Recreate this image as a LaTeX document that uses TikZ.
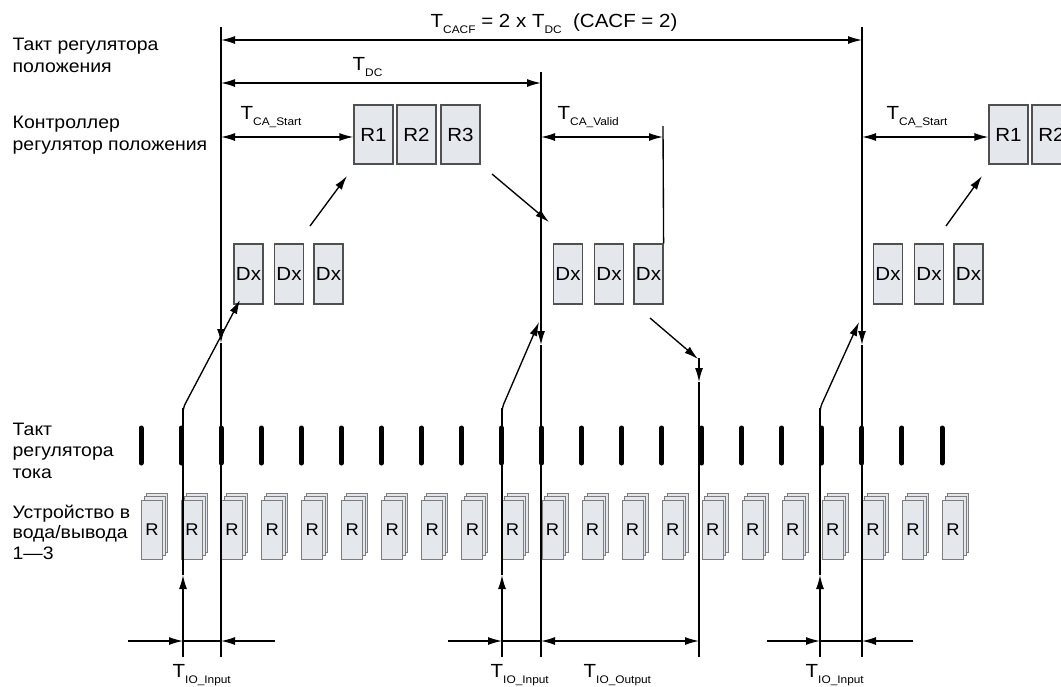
\documentclass[tikz,border=0pt]{standalone}
\usepackage{fontspec}
\setmainfont[FakeStretch=1.08]{Liberation Sans}
\usetikzlibrary{arrows.meta}
\definecolor{boxfill}{RGB}{228,232,236}
\definecolor{boxline}{RGB}{80,80,80}
\definecolor{sheetline}{RGB}{125,125,125}
\newcommand\Tl[1]{T\raisebox{-6.5pt}{\fontsize{11}{12}\selectfont #1}}
\tikzset{
  lab/.style={anchor=base west, inner sep=0pt, font=\fontsize{18}{22}\selectfont},
  tlab/.style={anchor=base west, inner sep=0pt, font=\fontsize{19}{22}\selectfont},
  rbox/.style={draw=boxline, fill=boxfill, line width=1.2pt, minimum width=39pt, minimum height=59pt, inner sep=0pt, font=\fontsize{19}{22}\selectfont},
  dxbox/.style={draw=boxline, fill=boxfill, line width=1.2pt, minimum width=29pt, minimum height=60pt, inner sep=0pt, font=\fontsize{19}{22}\selectfont},
  sheet/.style={draw=sheetline, fill=boxfill, line width=0.9pt, minimum width=21pt, minimum height=59pt, inner sep=0pt, font=\fontsize{17}{20}\selectfont},
  tick/.style={line width=5pt, line cap=round},
}
\begin{document}
\begin{tikzpicture}[x=1pt,y=-1pt, >={Latex[length=14pt,width=8pt]}, line width=1.35pt]
\useasboundingbox (0,0) rectangle (1061,686);
\clip (0,0) rectangle (1061,686);

% left labels
\node[lab] (a1) at (12,50) {Такт регулятора};
\node[lab] (a2) at (12,72) {положения};
\node[lab] (b1) at (12,128) {Контроллер};
\node[lab] (b2) at (12,150) {регулятор положения};
\node[lab] (c1) at (12,435) {Такт};
\node[lab] (c2) at (12,456) {регулятора};
\node[lab] (c3) at (12,478) {тока};
\node[lab] (d1) at (12,518) {Устройство в};
\node[lab] (d2) at (12,538) {вода/вывода};
\node[lab] (d3) at (12,559) {1—3};

% main vertical lines
\coordinate (L1t) at (221,27);  \coordinate (L1m) at (221,343); \coordinate (L1b) at (221,657);
\coordinate (L2t) at (541,72); \coordinate (L2m) at (541,345); \coordinate (L2b) at (541,657);
\coordinate (L3t) at (862,27);  \coordinate (L3m) at (862,345); \coordinate (L3b) at (862,657);
\draw[->] (L1t) -- (L1m); \draw (L1m) -- (L1b);
\draw[->] (L2t) -- (L2m); \draw (L2m) -- (L2b);
\draw[->] (L3t) -- (L3m); \draw (L3m) -- (L3b);

% boxes
\node[rbox] (R1a) at (373.5,134.5) {R1};
\node[rbox] (R2a) at (416.5,134.5) {R2};
\node[rbox] (R3a) at (460.5,134.5) {R3};
\node[rbox] (R1b) at (1008.5,134.5) {R1};
\node[rbox] (R2b) at (1051.5,134.5) {R2};

\node[dxbox] (D1a) at (248.5,274) {Dx};
\node[dxbox] (D1b) at (289,274) {Dx};
\node[dxbox] (D1c) at (328.5,274) {Dx};
\node[dxbox] (D2a) at (568,274) {Dx};
\node[dxbox] (D2b) at (609,274) {Dx};
\node[dxbox] (D2c) at (648.5,274) {Dx};
\node[dxbox] (D3a) at (888,274) {Dx};
\node[dxbox] (D3b) at (929,274) {Dx};
\node[dxbox] (D3c) at (968.5,274) {Dx};

% dimension lines top
\coordinate (yA) at (0,40);
\coordinate (yB) at (0,83);
\coordinate (yC) at (0,137);
\draw[<->] (L1t|-yA) -- (L3t|-yA);
\node[tlab] (tcacf) at (430,27) {\Tl{CACF} = 2 x \Tl{DC}\ \ (CACF = 2)};
\draw[<->] (L1t|-yB) -- (L2t|-yB);
\node[tlab] (tdc) at (352,70) {\Tl{DC}};
\draw[<->] (L1t|-yC) -- (R1a.west|-yC);
\node[tlab] (tcs1) at (240,119) {\Tl{CA\_Start}};
\coordinate (Vt) at (663,126);
\draw (Vt) -- (D2c.north east);
\draw[<->] (L2t|-yC) -- (Vt|-yC);
\node[tlab] (tcv) at (557,119) {\Tl{CA\_Valid}};
\draw[<->] (L3t|-yC) -- (R1b.west|-yC);
\node[tlab] (tcs2) at (886,119) {\Tl{CA\_Start}};

% data flow arrows
\coordinate (f1s) at (310,226); \coordinate (f1e) at (347,176);
\draw[->] (f1s) -- (f1e);
\coordinate (f2s) at (492,174); \coordinate (f2e) at (549,222);
\draw[->] (f2s) -- (f2e);
\coordinate (f3s) at (946,226); \coordinate (f3e) at (982,176);
\draw[->] (f3s) -- (f3e);
\coordinate (os) at (650,318); \coordinate (oe) at (698,359);
\draw[->] (os) -- (oe);
\coordinate (ov) at (699,358); \coordinate (ovm) at (699,382); \coordinate (ovb) at (699,657);
\draw[->] (ov) -- (ovm); \draw (ovm) -- (ovb);

% input arrows
\coordinate (i1b) at (183,657); \coordinate (i1m) at (183,575); \coordinate (i1k) at (183,408); \coordinate (i1e) at (240,300);
\draw[->, rounded corners=5pt] (i1m) -- (i1k) -- (i1e);
\coordinate (i2b) at (502,657); \coordinate (i2m) at (502,575); \coordinate (i2k) at (502,408); \coordinate (i2e) at (539,322);
\draw[->, rounded corners=5pt] (i2m) -- (i2k) -- (i2e);
\coordinate (i3b) at (820,657); \coordinate (i3m) at (820,575); \coordinate (i3k) at (820,408); \coordinate (i3e) at (859,322);
\draw[->, rounded corners=5pt] (i3m) -- (i3k) -- (i3e);

% current controller ticks and I/O stacks
\foreach \k in {0,...,20} {
  \pgfmathsetmacro\xx{141+40.05*\k}
  \draw[tick] (\xx,428) -- (\xx,463);
  \node[sheet] (sc\k) at (\xx+16,522.5) {};
  \node[sheet] (sb\k) at (\xx+13.5,526) {};
  \node[sheet] (sa\k) at (\xx+11,529.5) {R};
}
% lines over stacks
\draw (i1m) -- (i1k);
\draw (i2m) -- (i2k);
\draw (i3m) -- (i3k);
\draw (L1m) -- (L1b);
\draw (L2m) -- (L2b);
\draw (L3m) -- (L3b);
\draw[->] (i1b) -- (i1m);
\draw[->] (i2b) -- (i2m);
\draw[->] (i3b) -- (i3m);

% bottom dimension lines
\coordinate (yD) at (0,641);
\coordinate (g1l) at (128,641); \coordinate (g1r) at (275,641);
\draw[->] (g1l) -- (i1b|-yD);
\draw (i1b|-yD) -- (L1b|-yD);
\draw[->] (g1r) -- (L1b|-yD);
\node[tlab] (tio1) at (172,677) {\Tl{IO\_Input}};
\coordinate (g2l) at (448,641);
\draw[->] (g2l) -- (i2b|-yD);
\draw (i2b|-yD) -- (L2b|-yD);
\draw[<->] (L2b|-yD) -- (ovb|-yD);
\node[tlab] (tio2) at (490,677) {\Tl{IO\_Input}};
\node[tlab] (tio3) at (583,677) {\Tl{IO\_Output}};
\coordinate (g3l) at (767,641); \coordinate (g3r) at (913,641);
\draw[->] (g3l) -- (i3b|-yD);
\draw (i3b|-yD) -- (L3b|-yD);
\draw[->] (g3r) -- (L3b|-yD);
\node[tlab] (tio4) at (805,677) {\Tl{IO\_Input}};
\end{tikzpicture}
\end{document}
